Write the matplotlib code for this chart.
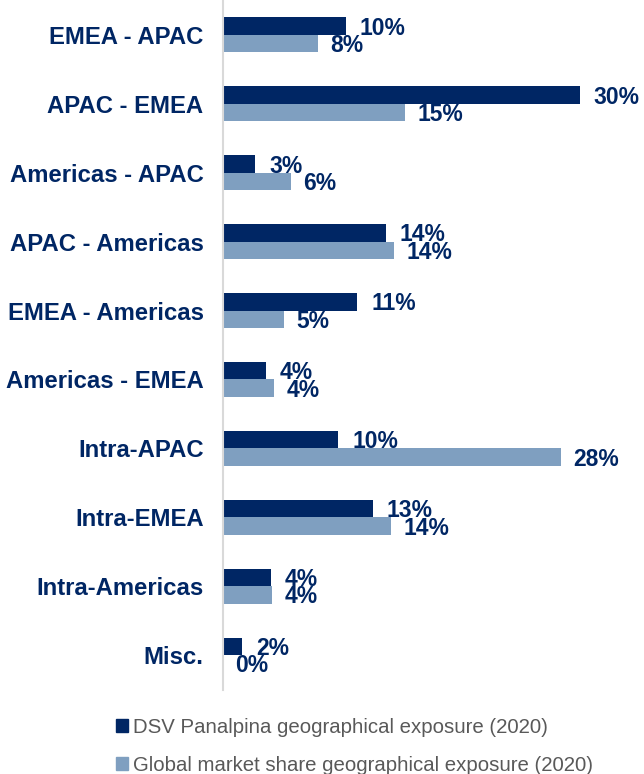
import numpy as np
import matplotlib.pyplot as plt
from matplotlib.patches import Patch

plt.rcParams['font.family'] = ['Liberation Sans', 'DejaVu Sans']

routes = ['EMEA - APAC', 'APAC - EMEA', 'Americas - APAC', 'APAC - Americas',
          'EMEA - Americas', 'Americas - EMEA', 'Intra-APAC', 'Intra-EMEA',
          'Intra-Americas', 'Misc.']
dsv = [10.3, 30.0, 2.7, 13.7, 11.3, 3.6, 9.7, 12.6, 4.0, 1.6]
market = [8.0, 15.3, 5.7, 14.4, 5.1, 4.3, 28.4, 14.1, 4.1, 0.0]

dark = '#002664'
light = '#7f9fc0'

fig = plt.figure(figsize=(6.44, 7.74), dpi=100)
ax = fig.add_axes([223 / 644, 1 - 689.5 / 774, (620 - 223) / 644, 689 / 774])

y = np.arange(len(routes))
h = 0.254
ax.barh(y - h / 2, dsv, height=h, color=dark)
ax.barh(y + h / 2, market, height=h, color=light)

for i in range(len(routes)):
    ax.annotate(f'{dsv[i]:.0f}%', (dsv[i], y[i] - h / 2), xytext=(10, -1.5),
                textcoords='offset points', va='center', ha='left',
                fontsize=16.5, fontweight='bold', color=dark)
    ax.annotate(f'{market[i]:.0f}%', (market[i], y[i] + h / 2), xytext=(9, -1.5),
                textcoords='offset points', va='center', ha='left',
                fontsize=16.5, fontweight='bold', color=dark)

ax.set_xlim(0, (620 - 223) / 11.9)
ax.set_ylim(len(routes) - 0.5, -0.5)
ax.set_yticks(y)
ax.set_yticklabels(routes, fontsize=17.2, fontweight='bold', color=dark)
ax.tick_params(axis='y', length=0, pad=14)
ax.set_xticks([])
for s in ['top', 'right', 'bottom']:
    ax.spines[s].set_visible(False)
ax.spines['left'].set_color('#d9d9d9')
ax.spines['left'].set_linewidth(1.5)

handles = [Patch(color=dark), Patch(color=light)]
labels = ['DSV Panalpina geographical exposure (2020)',
          'Global market share geographical exposure (2020)']
fig.legend(handles, labels, loc='upper left', bbox_to_anchor=(108 / 644, 1 - 710 / 774),
           frameon=False, fontsize=14.7, labelcolor='#595959',
           handlelength=0.6, handleheight=0.6, handletextpad=0.2,
           labelspacing=0.9, borderaxespad=0)

fig.savefig('out.png', dpi=100)
